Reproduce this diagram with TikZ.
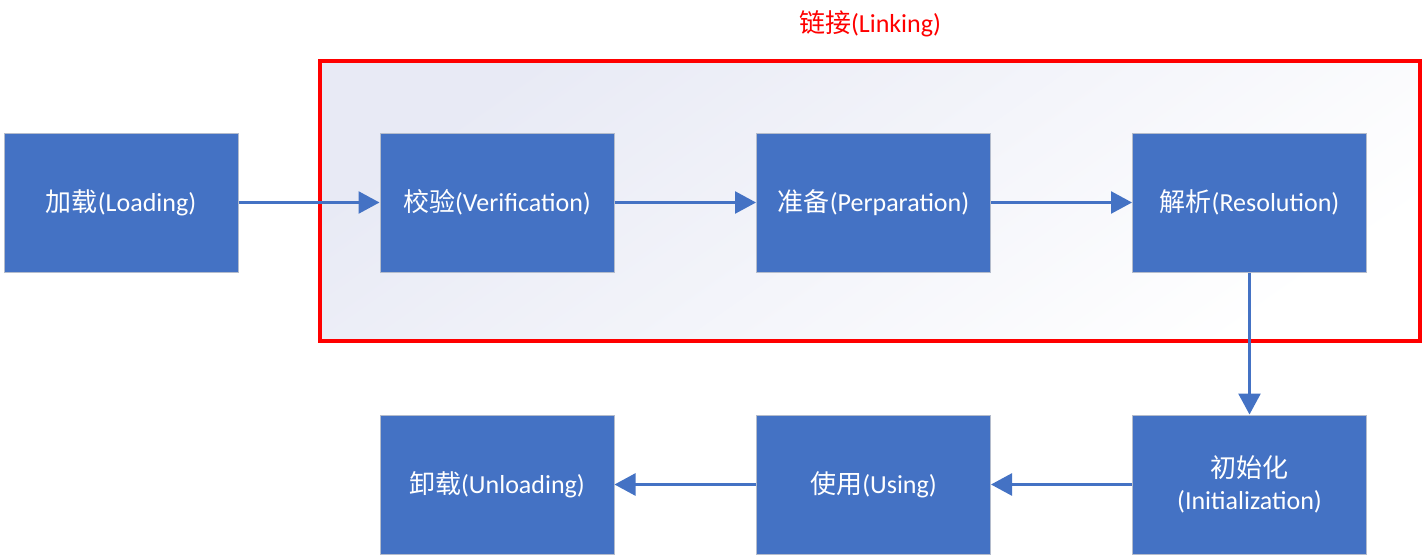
\documentclass[tikz,border=0pt]{standalone}
\usepackage{fontspec}
\setmainfont{Carlito}
\newfontfamily\cjk{Noto Sans CJK SC}
\usetikzlibrary{arrows.meta}
\definecolor{boxblue}{HTML}{4472C4}
\definecolor{boxline}{HTML}{B4BCCC}
\definecolor{shadecol}{HTML}{E8EAF5}
\begin{document}
\begin{tikzpicture}[x=1pt,y=-1pt,
  stage/.style={draw=boxline,line width=1pt,fill=boxblue,text=white,minimum width=234pt,minimum height=139pt,inner sep=0pt,font=\fontsize{26}{31}\selectfont,align=center},
  flow/.style={draw=boxblue,line width=2.6pt,-{Triangle[length=21pt,width=22pt]}}]
\useasboundingbox (0,0) rectangle (1425,557);
\fill[white] (0,0) rectangle (1425,557);
\shade[top color=shadecol,bottom color=white!98!shadecol,shading angle=35] (320,61) rectangle (1420,341);
\draw[red,line width=4pt] (320,61) rectangle (1420,341);
\node[text=red,font=\fontsize{26}{31}\selectfont] (lab) at (870,24) {{\cjk 链接}(Linking)};
\node[stage] (load) at (121,202.5) {{\cjk 加载}(Loading)};
\node[stage] (ver) at (497,202.5) {{\cjk 校验}(Verification)};
\node[stage] (prep) at (873.5,202.5) {{\cjk 准备}(Perparation)};
\node[stage] (res) at (1249.5,202.5) {{\cjk 解析}(Resolution)};
\node[stage] (init) at (1249.5,484.5) {{\cjk 初始化}\\[1pt](Initialization)};
\node[stage] (use) at (873.5,484.5) {{\cjk 使用}(Using)};
\node[stage] (unl) at (497,484.5) {{\cjk 卸载}(Unloading)};
\draw[flow] (load) -- (ver);
\draw[flow] (ver) -- (prep);
\draw[flow] (prep) -- (res);
\draw[flow] (res) -- (init);
\draw[flow] (init) -- (use);
\draw[flow] (use) -- (unl);
\end{tikzpicture}
\end{document}
